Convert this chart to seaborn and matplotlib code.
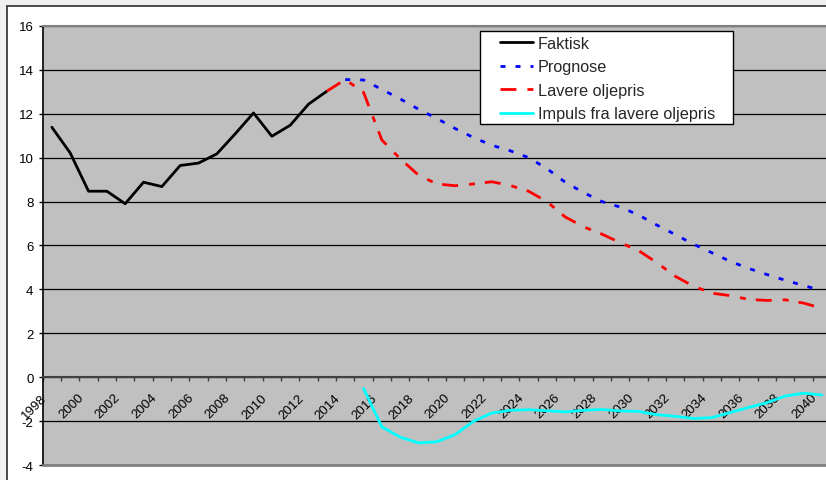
import numpy as np
import matplotlib
matplotlib.use("Agg")
import matplotlib.pyplot as plt
import seaborn as sns
from matplotlib.patches import Rectangle
from matplotlib.transforms import ScaledTranslation

# Categories (one per year) and the four series, each with its first year
years = list(range(1998, 2041))
year_labels = [str(y) for y in years[::2]]

faktisk_start = 1998
faktisk = [11.38, 10.21, 8.47, 8.47, 7.90, 8.88, 8.68, 9.64, 9.75, 10.17,
           11.08, 12.03, 10.97, 11.47, 12.43, 13.02]

prognose_start = 2014
prognose = [13.55, 13.53, 13.10, 12.67, 12.20, 11.78, 11.32, 10.91, 10.56,
            10.31, 10.00, 9.50, 8.88, 8.41, 8.00, 7.75, 7.39, 6.93, 6.50,
            6.06, 5.67, 5.28, 4.96, 4.68, 4.42, 4.18, 3.95]

lavere_start = 2013
lavere = [13.02, 13.55, 12.97, 10.80, 9.95, 9.20, 8.80, 8.72, 8.80, 8.90,
          8.73, 8.47, 8.00, 7.30, 6.85, 6.52, 6.13, 5.77, 5.22, 4.60, 4.15,
          3.83, 3.72, 3.55, 3.50, 3.53, 3.38, 3.15]

impuls_start = 2015
impuls = [-0.50, -2.25, -2.72, -2.98, -2.93, -2.60, -2.00, -1.62, -1.50,
          -1.47, -1.52, -1.57, -1.50, -1.46, -1.53, -1.55, -1.70, -1.77,
          -1.87, -1.83, -1.60, -1.37, -1.15, -0.85, -0.72, -0.80]

series_names = ["Faktisk", "Prognose", "Lavere oljepris",
                "Impuls fra lavere oljepris"]

sns.set_theme(style="white")
plt.rcParams["font.family"] = ["Liberation Sans", "DejaVu Sans"]
plt.rcParams["lines.scale_dashes"] = False
plt.rcParams["axes.unicode_minus"] = False

W, H = 826, 481
fig = plt.figure(figsize=(W / 100, H / 100), dpi=100, facecolor="#f0f0f0")

# White chart area with its dark frame, behind the axes
fig.patches.append(Rectangle((7 / W, -0.1), 1.2, (H - 7) / H + 0.1,
                             transform=fig.transFigure, facecolor="white",
                             edgecolor="#3a3a3a", lw=1.3, zorder=-1))

ax = fig.add_axes([42.7 / W, (H - 466.3) / H, 788.3 / W, (466.3 - 26.7) / H])
ax.set_facecolor("#c0c0c0")


def draw(start, values, color, dashes, z):
    x = np.arange(len(values)) + years.index(start)
    sns.lineplot(x=x, y=values, color=color, lw=2.0, ax=ax, zorder=z,
                 legend=False, estimator=None, sort=False)
    line = ax.lines[-1]
    if dashes is not None:
        line.set_dashes(dashes)
    line.set_solid_joinstyle("round")
    return line


h1 = draw(faktisk_start, faktisk, "black", None, 3)
h2 = draw(prognose_start, prognose, "#0000ff", (3.6, 7.2), 3)
h3 = draw(lavere_start, lavere, "#ff0000", (11.5, 7.9, 4.3, 7.2), 3)
h4 = draw(impuls_start, impuls, "#00ffff", None, 3)

ax.set_xlim(-0.5, len(years) - 0.5)
ax.set_ylim(-4, 16)
ax.set_xlabel("")
ax.set_ylabel("")

# Spines: category axis crosses at zero
ax.spines["bottom"].set_position(("data", 0))
ax.spines["bottom"].set_color("#404040")
ax.spines["bottom"].set_linewidth(1.5)
ax.spines["left"].set_color("black")
ax.spines["left"].set_linewidth(1.2)
ax.spines["top"].set_color("#808080")
ax.spines["top"].set_linewidth(1.5)
ax.spines["right"].set_visible(False)
ax.axhline(-4, color="#808080", lw=2, clip_on=False, zorder=2.6)

# Horizontal gridlines
ax.set_yticks(range(-4, 17, 2))
ax.yaxis.grid(True, color="black", lw=0.9)
ax.xaxis.grid(False)
ax.set_axisbelow(True)
ax.tick_params(axis="y", direction="out", length=3.2, width=1,
               color="black", pad=3.4, labelsize=9.5, left=True,
               labelcolor="black")

# Year labels at every second category, tick marks between categories
ax.set_xticks(np.arange(0, len(years), 2))
ax.set_xticks(np.arange(-0.5, len(years), 1), minor=True)
ax.set_xticklabels(year_labels, rotation=45, ha="right", va="top",
                   rotation_mode="anchor")
ax.tick_params(axis="x", which="major", length=0, pad=10.0, labelsize=9.5,
               labelcolor="black", bottom=True)
ax.tick_params(axis="x", which="minor", direction="out", length=3.0,
               width=1, color="#404040", bottom=True)
shift = ScaledTranslation(-0.11, 0, fig.dpi_scale_trans)
for lab in ax.get_xticklabels():
    lab.set_transform(lab.get_transform() + shift)

# Legend box and entries
ax.add_patch(Rectangle((480 / W, 1 - 125 / H), 253 / W, 93 / H,
                       transform=fig.transFigure, facecolor="white",
                       edgecolor="black", lw=1.0, clip_on=False, zorder=4))
leg = ax.legend([h1, h2, h3, h4], series_names, loc="upper left",
                bbox_to_anchor=(500 / W, 1 - 37 / H),
                bbox_transform=fig.transFigure, frameon=False,
                borderpad=0, borderaxespad=0, handlelength=2.0,
                handletextpad=0.31, labelspacing=0.52, fontsize=11.7)
leg.set_zorder(5)

fig.savefig("out.png", dpi=100, facecolor=fig.get_facecolor())
